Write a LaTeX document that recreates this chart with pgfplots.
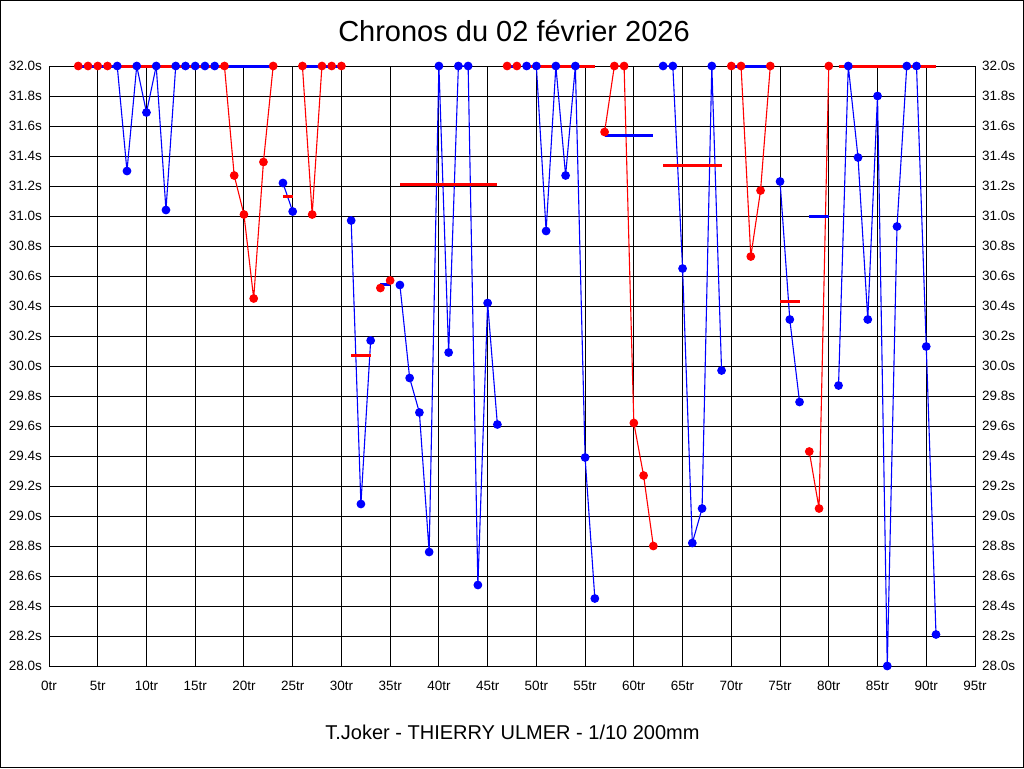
\documentclass[border=0pt]{standalone}
\usepackage{fontspec}
\setmainfont{Liberation Sans}
\usepackage{pgfplots}
\pgfplotsset{compat=1.18}
\begin{document}
\begin{tikzpicture}
\pgfplotsset{
  common/.style={
    at={(0,0)}, anchor=south west, scale only axis,
    width=463pt, height=300pt,
    xmin=0, xmax=95, ymin=28, ymax=32,
    ytick={28,28.2,28.4,28.6,28.8,29,29.2,29.4,29.6,29.8,30,30.2,30.4,30.6,30.8,31,31.2,31.4,31.6,31.8,32},
    yticklabels={28.0s,28.2s,28.4s,28.6s,28.8s,29.0s,29.2s,29.4s,29.6s,29.8s,30.0s,30.2s,30.4s,30.6s,30.8s,31.0s,31.2s,31.4s,31.6s,31.8s,32.0s},
    major tick length=0pt,
    axis line style={black, line width=0.5pt},
    tick label style={font=\fontsize{6.75pt}{8pt}\selectfont, black},
    /pgf/number format/assume math mode=true,
    clip=false,
  },
  th/.style={line width=0.55pt, mark=*, mark size=1.9pt},
  av/.style={line width=1.5pt, no marks},
}
\begin{axis}[common, xtick=\empty, yticklabel pos=right]
\end{axis}
\begin{axis}[common, name=main,
  axis line style={draw=none},
  xtick={0,5,10,15,20,25,30,35,40,45,50,55,60,65,70,75,80,85,90,95},
  xticklabels={0tr,5tr,10tr,15tr,20tr,25tr,30tr,35tr,40tr,45tr,50tr,55tr,60tr,65tr,70tr,75tr,80tr,85tr,90tr,95tr},
  xticklabel style={yshift=-4pt},
  grid=major, grid style={black, line width=0.5pt},
]
% stints: thin lines with markers
\addplot[red, th] coordinates {(3,32) (4,32) (5,32) (6,32)};
\addplot[blue, th] coordinates {(7,32) (8,31.30) (9,32) (10,31.69) (11,32) (12,31.04) (13,32) (14,32) (15,32) (16,32) (17,32)};
\addplot[red, th] coordinates {(18,32) (19,31.27) (20,31.01) (21,30.45) (22,31.36) (23,32)};
\addplot[blue, th] coordinates {(24,31.22) (25,31.03)};
\addplot[red, th] coordinates {(26,32) (27,31.01) (28,32) (29,32) (30,32)};
\addplot[blue, th] coordinates {(31,30.97) (32,29.08) (33,30.17)};
\addplot[red, th] coordinates {(34,30.52) (35,30.57)};
\addplot[blue, th] coordinates {(36,30.54) (37,29.92) (38,29.69) (39,28.76) (40,32) (41,30.09) (42,32) (43,32) (44,28.54) (45,30.42) (46,29.61)};
\addplot[red, th] coordinates {(47,32) (48,32)};
\addplot[blue, th] coordinates {(49,32) (50,32) (51,30.90) (52,32) (53,31.27) (54,32) (55,29.39) (56,28.45)};
\addplot[red, th] coordinates {(57,31.56) (58,32) (59,32) (60,29.62) (61,29.27) (62,28.80)};
\addplot[blue, th] coordinates {(63,32) (64,32) (65,30.65) (66,28.82) (67,29.05) (68,32) (69,29.97)};
\addplot[red, th] coordinates {(70,32) (71,32) (72,30.73) (73,31.17) (74,32)};
\addplot[blue, th] coordinates {(75,31.23) (76,30.31) (77,29.76)};
\addplot[red, th] coordinates {(78,29.43) (79,29.05) (80,32)};
\addplot[blue, th] coordinates {(81,29.87) (82,32) (83,31.39) (84,30.31) (85,31.80) (86,28.0) (87,30.93) (88,32) (89,32) (90,30.13) (91,28.21)};
% stint averages: thick lines
\addplot[blue, av] coordinates {(3,32) (7,32)};
\addplot[red, av] coordinates {(7,32) (18,32)};
\addplot[blue, av] coordinates {(18,32) (23,32)};
\addplot[red, av] coordinates {(24,31.127) (25,31.127)};
\addplot[blue, av] coordinates {(26,32) (30,32)};
\addplot[red, av] coordinates {(31,30.07) (33,30.07)};
\addplot[blue, av] coordinates {(34,30.545) (35,30.545)};
\addplot[red, av] coordinates {(36,31.207) (46,31.207)};
\addplot[blue, av] coordinates {(47,32) (48,32)};
\addplot[red, av] coordinates {(49,32) (56,32)};
\addplot[blue, av] coordinates {(57,31.538) (62,31.538)};
\addplot[red, av] coordinates {(63,31.338) (69,31.338)};
\addplot[blue, av] coordinates {(70,32) (74,32)};
\addplot[red, av] coordinates {(75,30.43) (77,30.43)};
\addplot[blue, av] coordinates {(78,31.00) (80,31.00)};
\addplot[red, av] coordinates {(81,32) (91,32)};
\end{axis}
\node[anchor=base, font=\fontsize{14.5pt}{16pt}\selectfont] at (232.5pt,312.2pt) {Chronos du 02 février 2026};
\node[anchor=base, font=\fontsize{10pt}{12pt}\selectfont] at (231.75pt,-36.65pt) {T.Joker - THIERRY ULMER - 1/10 200mm};
\draw[black, line width=0.5pt] (-24.25pt,-50.75pt) rectangle (487.25pt,332.75pt);
\pgfresetboundingbox
\path[use as bounding box] (-24.5pt,-51pt) rectangle (487.5pt,333pt);
\end{tikzpicture}
\end{document}
